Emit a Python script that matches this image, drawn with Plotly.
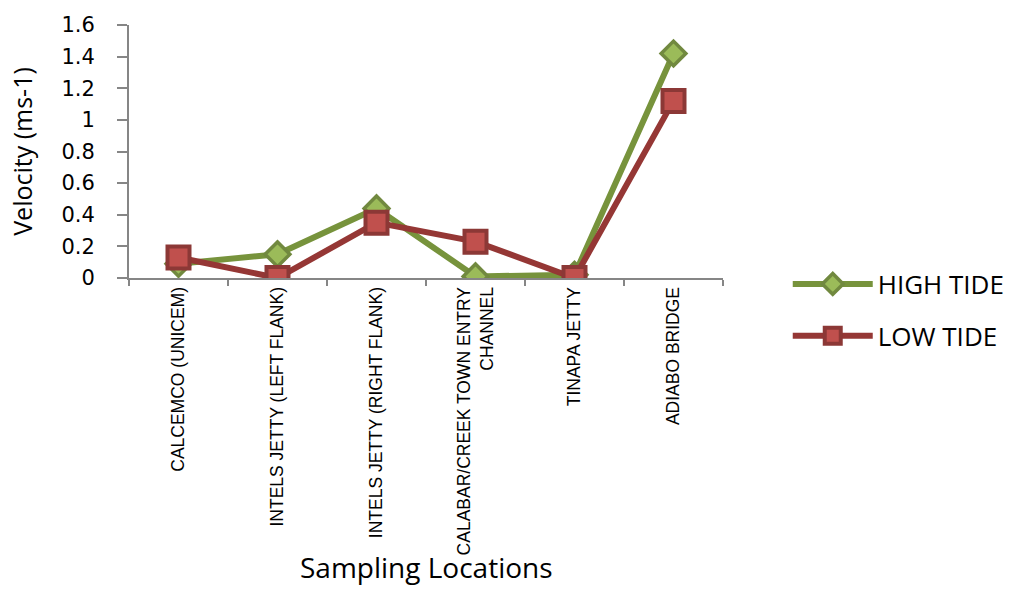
import plotly.graph_objects as go

locations = [
    "CALCEMCO (UNICEM)",
    "INTELS JETTY (LEFT FLANK)",
    "INTELS JETTY (RIGHT FLANK)",
    "CALABAR/CREEK TOWN ENTRY<br>CHANNEL",
    "TINAPA JETTY",
    "ADIABO BRIDGE",
]
high_tide = [0.09, 0.15, 0.44, 0.01, 0.02, 1.42]
low_tide = [0.13, 0.00, 0.35, 0.23, 0.00, 1.12]
y_ticks = [0, 0.2, 0.4, 0.6, 0.8, 1.0, 1.2, 1.4, 1.6]

fig = go.Figure()
fig.add_trace(go.Scatter(
    x=locations, y=high_tide, name="HIGH TIDE", mode="lines+markers",
    legendgroup="high",
    line=dict(color="#77933C", width=6),
    marker=dict(symbol="diamond", size=19, color="#9BBB59",
                line=dict(color="#71893F", width=3.5)),
))
fig.add_trace(go.Scatter(
    x=locations, y=low_tide, name="LOW TIDE", mode="lines+markers",
    legendgroup="low",
    line=dict(color="#953735", width=6),
    marker=dict(symbol="square", size=22, color="#C0504D",
                line=dict(color="#8C3836", width=4)),
))

fig.update_layout(
    width=1025, height=590,
    margin=dict(l=129, r=302, t=25, b=312, autoexpand=False),
    paper_bgcolor="white", plot_bgcolor="white",
    font=dict(family="Open Sans", color="#000000"),
    showlegend=True,
    legend=dict(x=1.109, y=0.069, xanchor="left", yanchor="top",
                font=dict(size=26, family="Open Sans"),
                tracegroupgap=15, itemwidth=80,
                bgcolor="rgba(0,0,0,0)"),
    xaxis=dict(
        type="category", range=[-0.5, 5.5],
        showline=True, linecolor="#868686", linewidth=2,
        ticks="outside", ticklen=6, tickcolor="#868686", tickwidth=2,
        tickson="boundaries", tickangle=-90,
        tickfont=dict(family="Liberation Sans", size=17.5),
        showgrid=False, zeroline=False,
        automargin=False,
    ),
    yaxis=dict(
        range=[0, 1.6], tickvals=y_ticks,
        showline=True, linecolor="#868686", linewidth=2,
        ticks="outside", ticklen=10, tickcolor="#868686", tickwidth=2,
        ticklabelstandoff=18,
        tickfont=dict(family="DejaVu Sans", size=21),
        showgrid=False, zeroline=False,
        title=dict(text="Velocity (ms-1)",
                   font=dict(family="Open Sans", size=25), standoff=22),
        automargin=False,
    ),
    annotations=[dict(
        text="Sampling Locations", xref="paper", yref="paper",
        x=0.5, y=-1.142, xanchor="center", yanchor="middle",
        showarrow=False, font=dict(family="Open Sans", size=28),
    )],
)

fig.write_html("out.html")
